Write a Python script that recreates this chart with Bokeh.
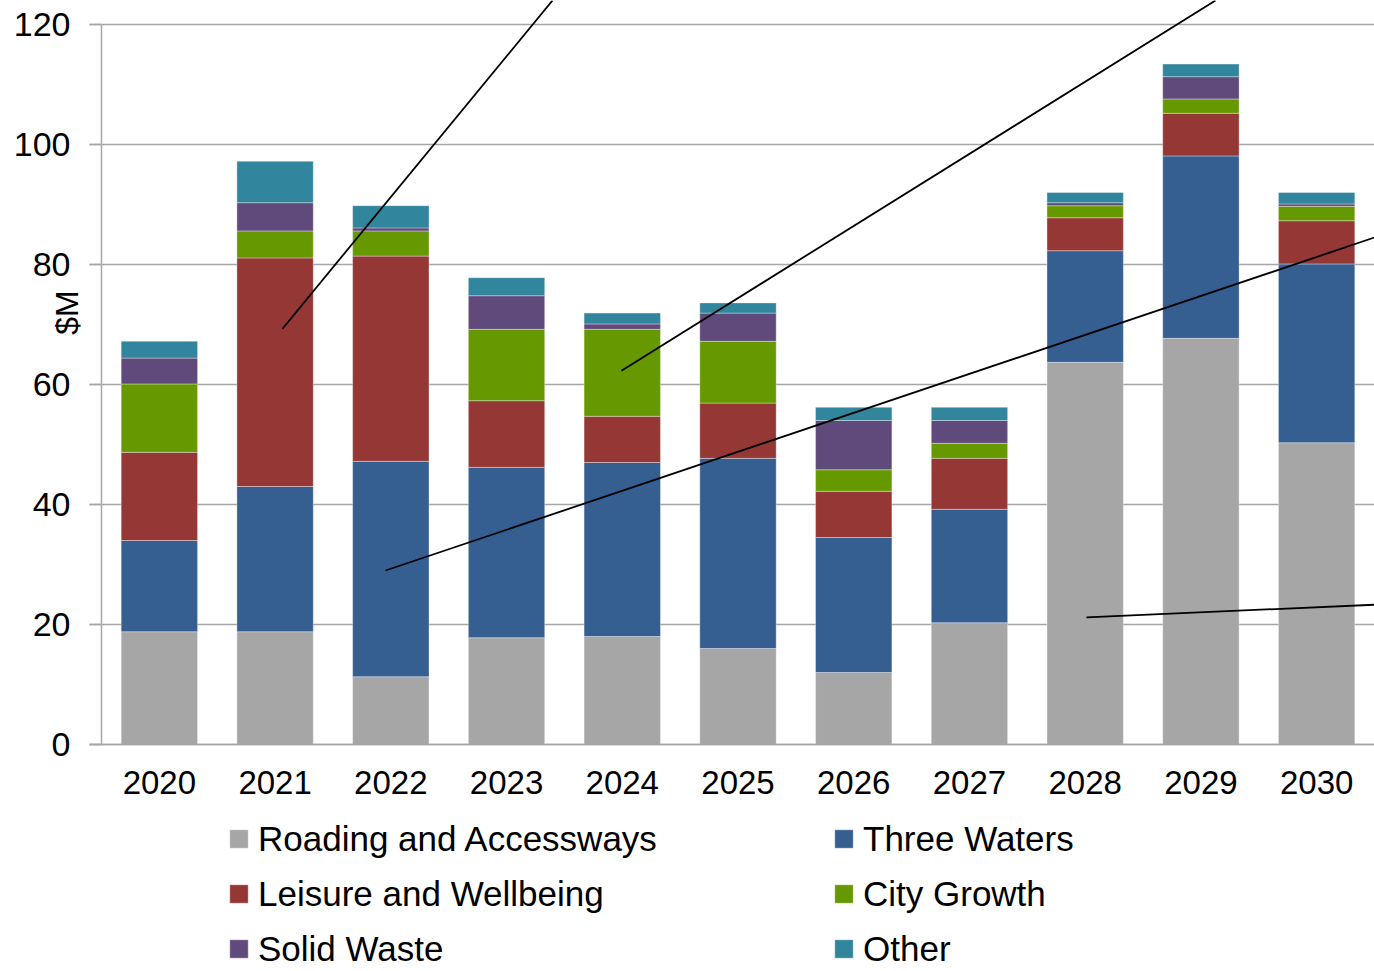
from bokeh.plotting import figure
from bokeh.models import Range1d, FixedTicker, Legend, LegendItem, ColumnDataSource, Label
from bokeh.embed import file_html
from bokeh.resources import INLINE

# ---------------- data ----------------
years = ["2020", "2021", "2022", "2023", "2024", "2025", "2026", "2027", "2028", "2029", "2030"]
series_names = ["Roading and Accessways", "Three Waters", "Leisure and Wellbeing",
                "City Growth", "Solid Waste", "Other"]
roading = [18.8, 18.8, 11.3, 17.8, 18.0, 16.0, 12.0, 20.3, 63.7, 67.7, 50.3]
three_waters = [15.2, 24.2, 35.9, 28.4, 29.0, 31.7, 22.5, 18.9, 18.6, 30.4, 29.8]
leisure = [14.7, 38.1, 34.2, 11.1, 7.7, 9.2, 7.7, 8.5, 5.5, 7.1, 7.2]
city_growth = [11.4, 4.5, 4.2, 11.9, 14.5, 10.3, 3.6, 2.5, 2.0, 2.4, 2.4]
solid_waste = [4.3, 4.7, 0.5, 5.6, 0.9, 4.7, 8.2, 3.8, 0.5, 3.7, 0.4]
other = [2.8, 6.9, 3.7, 3.0, 1.8, 1.7, 2.2, 2.2, 1.7, 2.1, 1.9]
colors = ["#A6A6A6", "#355F91", "#953735", "#669900", "#604A7B", "#31859C"]
y_ticks = [0, 20, 40, 60, 80, 100, 120]
y_label = "$M"
# leader lines (x0, y0, x1, y1) in data units
leader_x0 = [2.064, 4.993, 2.954, 9.011]
leader_y0 = [69.3, 62.3, 29.0, 21.2]
leader_x1 = [4.397, 10.126, 11.5, 11.5]
leader_y1 = [124.0, 124.0, 84.5, 23.3]

FONT = "Liberation Sans"
GRID = "#A6A6A6"

n = len(years)
xs = list(range(1, n + 1))
keys = ["roading", "three_waters", "leisure", "city_growth", "solid_waste", "other"]
src = ColumnDataSource(dict(x=xs, roading=roading, three_waters=three_waters, leisure=leisure,
                            city_growth=city_growth, solid_waste=solid_waste, other=other))

# frame covers the whole canvas; the plot area proper starts at x = 0.5, y = 0
x_lo = 0.5 - 101 / 115.73
tick_x = 0.5 - 12 / 115.73
p = figure(width=1374, height=971, output_backend="svg", toolbar_location=None,
           x_range=Range1d(x_lo, n + 0.5), y_range=Range1d(-37.83, 124),
           min_border_left=0, min_border_right=0, min_border_top=0, min_border_bottom=0)
p.outline_line_color = None
p.background_fill_color = "white"
p.xgrid.visible = False
p.ygrid.visible = False

# horizontal gridlines (with the outward tick stubs)
p.segment(x0=[tick_x] * len(y_ticks), y0=y_ticks, x1=[n + 0.5] * len(y_ticks), y1=y_ticks,
          line_color=GRID, line_width=1.5)

rs = p.vbar_stack(keys, x="x", width=0.66, source=src, fill_color=colors,
                  line_color="white", line_alpha=0.35, line_width=1)

p.segment(x0=leader_x0, y0=leader_y0, x1=leader_x1, y1=leader_y1,
          line_color="black", line_width=1.8)

# y axis drawn at x = 0.5 inside the frame
p.yaxis.fixed_location = 0.5
p.yaxis.ticker = FixedTicker(ticks=y_ticks)
p.yaxis.bounds = (0, 120)
p.yaxis.axis_line_color = GRID
p.yaxis.axis_line_width = 1.5
p.yaxis.major_tick_out = 12
p.yaxis.major_tick_in = 0
p.yaxis.major_tick_line_color = GRID
p.yaxis.major_tick_line_width = 1.5
p.yaxis.minor_tick_line_color = None
p.yaxis.major_label_standoff = 19
p.yaxis.major_label_text_font = FONT
p.yaxis.major_label_text_font_size = "34px"
p.yaxis.major_label_text_color = "black"

p.add_layout(Label(x=0.5 - 34 / 115.73, y=72, text=y_label, angle=1.5708,
                   text_align="center", text_baseline="middle", text_font=FONT,
                   text_font_size="32px", text_color="black"))

# x axis drawn at y = 0 inside the frame
p.xaxis.fixed_location = 0
p.xaxis.bounds = (tick_x, n + 0.5)
p.xaxis.ticker = FixedTicker(ticks=xs)
p.xaxis.major_label_overrides = {x: y for x, y in zip(xs, years)}
p.xaxis.axis_line_color = GRID
p.xaxis.axis_line_width = 1.5
p.xaxis.major_tick_out = 0
p.xaxis.major_tick_in = 0
p.xaxis.minor_tick_line_color = None
p.xaxis.major_label_standoff = 26
p.xaxis.major_label_text_font = FONT
p.xaxis.major_label_text_font_size = "33px"
p.xaxis.major_label_text_color = "black"

legend = Legend(items=[LegendItem(label=s, renderers=[r]) for s, r in zip(series_names, rs)],
                location=(227, -5), orientation="horizontal", ncols=2,
                glyph_width=23, glyph_height=23, label_standoff=8,
                label_width=574, label_height=55, spacing=0, padding=0, margin=0,
                border_line_color=None, background_fill_alpha=0,
                label_text_font=FONT, label_text_font_size="35px", label_text_color="black")
p.add_layout(legend, "center")

open("out.html", "w").write(file_html(p, INLINE))
